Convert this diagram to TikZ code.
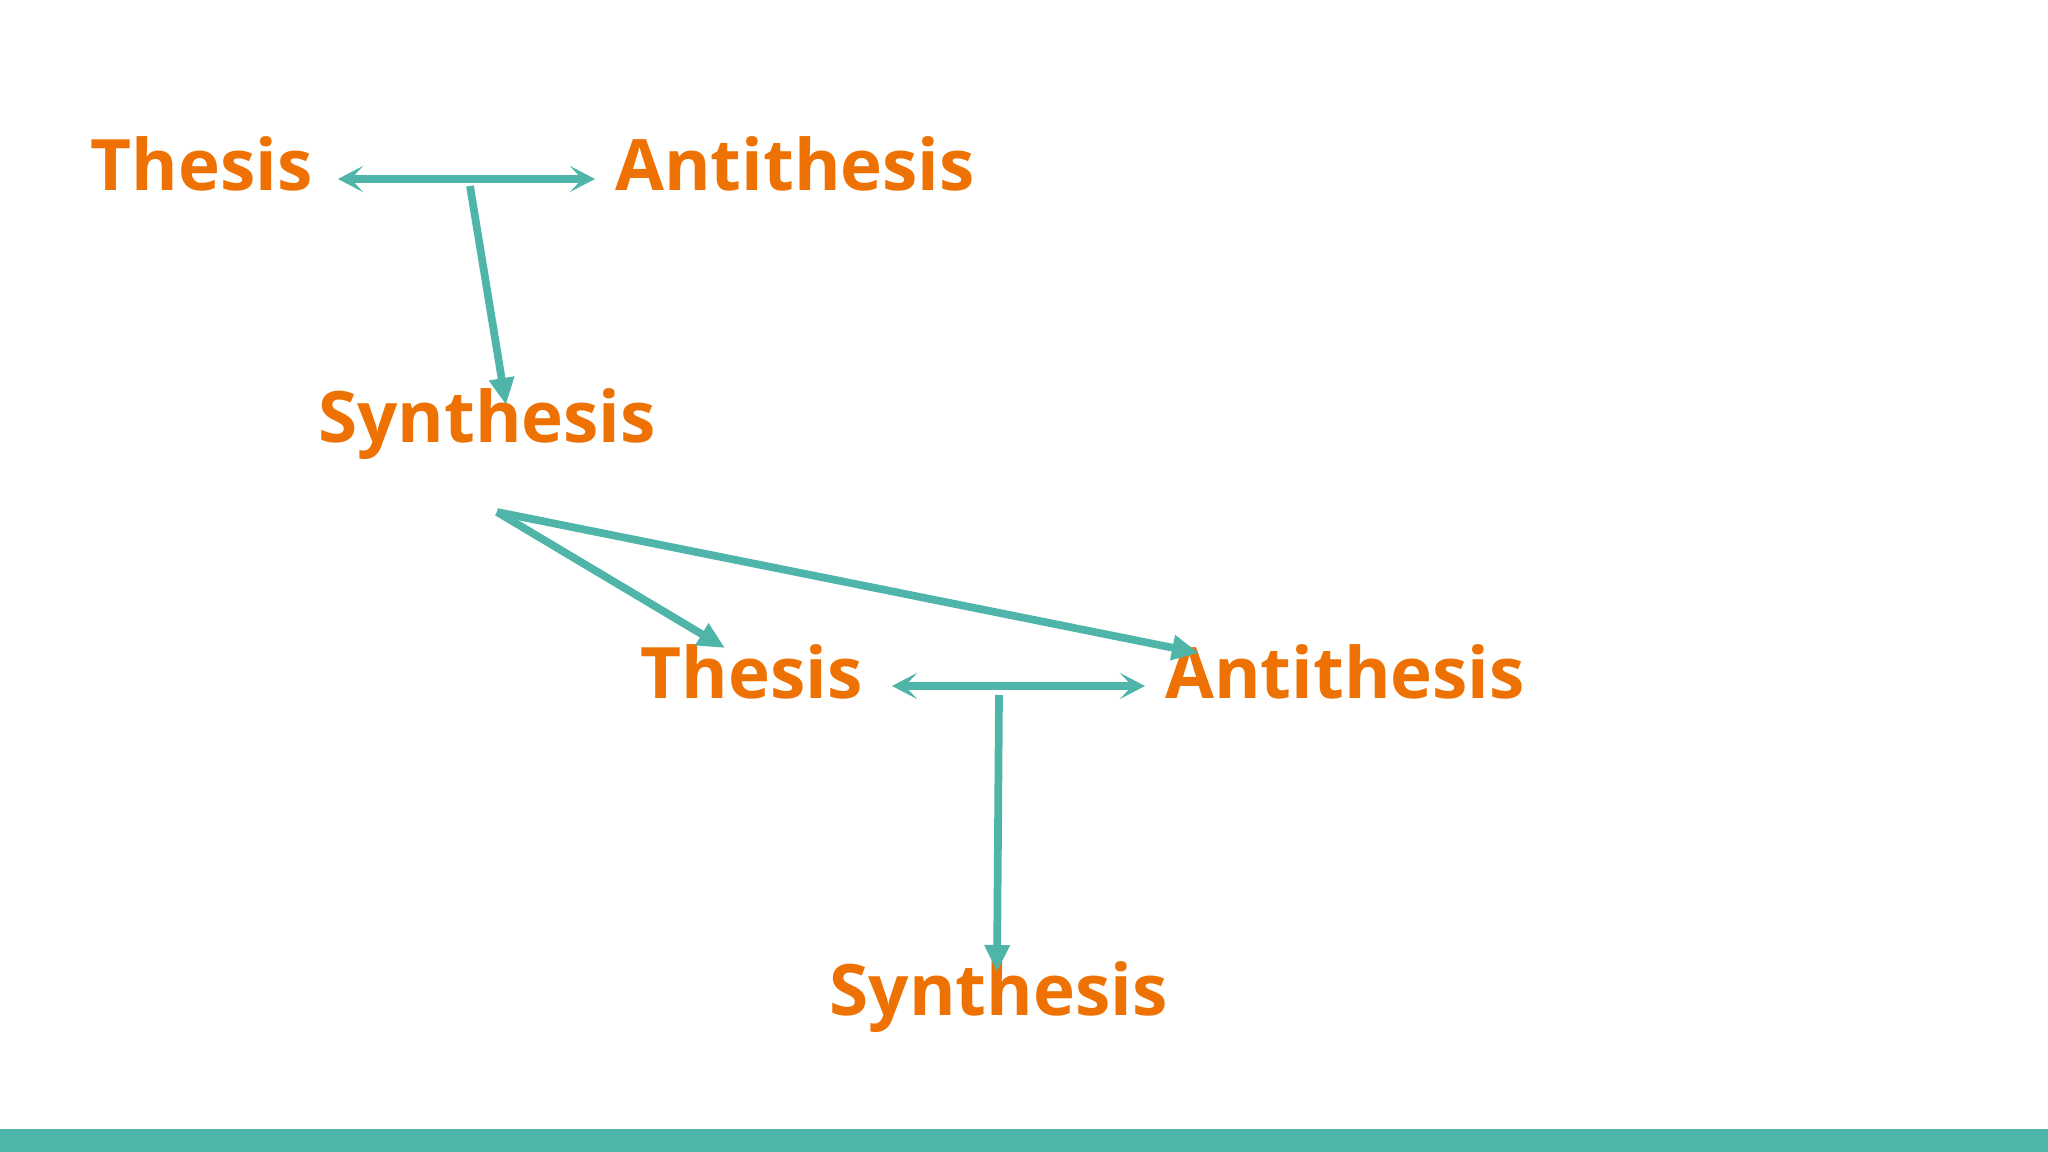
\documentclass[tikz,border=0pt]{standalone}
\usepackage{fontspec}
\setmainfont{Open Sans}
\usetikzlibrary{arrows.meta}
\definecolor{dlorange}{HTML}{EE7203}
\definecolor{dlteal}{HTML}{4FB5A9}
\tikzset{
  word/.style={font=\bfseries\fontsize{20.2}{24}\selectfont,text=dlorange,inner sep=0pt,anchor=base},
  both/.style={draw=dlteal,line width=2.4pt,{Stealth[length=2.5mm,width=2.6mm,inset=1.2mm]}-{Stealth[length=2.5mm,width=2.6mm,inset=1.2mm]}},
  lead/.style={draw=dlteal,line width=2.2pt,-{Triangle[length=2.7mm,width=2.4mm]}}
}
\begin{document}
\begin{tikzpicture}
      \useasboundingbox (0,0) rectangle (20.48,-11.52);
      \fill[dlteal] (0,-11.29) rectangle (20.48,-11.52);
      % first round
      \node[word] (thesisA) at (2.015,-1.91) {Thesis};
      \node[word] (antiA) at (7.95,-1.91) {Antithesis};
      \node[word] (synA) at (4.87,-4.43) {Synthesis};
      % second round
      \node[word] (thesisB) at (7.515,-6.98) {Thesis};
      \node[word] (antiB) at (13.45,-6.98) {Antithesis};
      \node[word] (synB) at (9.985,-10.15) {Synthesis};
      % arrow ends
      \coordinate (lA) at (3.38,-1.79);
      \coordinate (rA) at (5.95,-1.79);
      \coordinate (hubA) at (4.70,-1.86);
      \coordinate (tipA) at (5.06,-4.05);
      \coordinate (fork) at (4.97,-5.12);
      \coordinate (tipT) at (7.25,-6.48);
      \coordinate (tipN) at (11.99,-6.53);
      \coordinate (lB) at (8.92,-6.86);
      \coordinate (rB) at (11.45,-6.86);
      \coordinate (hubB) at (9.99,-6.95);
      \coordinate (tipB) at (9.97,-9.72);
      \draw[both] (lA) -- (rA);
      \draw[lead] (hubA) -- (tipA);
      \draw[lead] (fork) -- (tipT);
      \draw[lead] (fork) -- (tipN);
      \draw[both] (lB) -- (rB);
      \draw[lead] (hubB) -- (tipB);
\end{tikzpicture}
\end{document}
